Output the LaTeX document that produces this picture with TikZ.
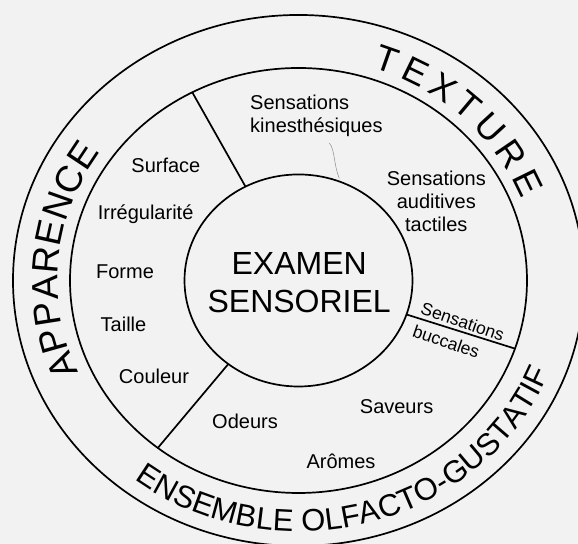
\documentclass[tikz,border=0pt]{standalone}
\usepackage{fontspec}
\setmainfont{Liberation Sans}
\usetikzlibrary{decorations.text}

\newcommand{\apparencefont}{\fontsize{37}{37}\selectfont}
\newcommand{\texturefont}{\fontsize{36}{36}\selectfont}
\newcommand{\olfactofont}{\fontsize{31}{31}\selectfont}

\begin{document}
\begin{tikzpicture}[x=1pt, y=0.93pt,
    every node/.style = {font=\fontsize{20}{23}\selectfont},
    ring/.style       = {draw, line width=1.7pt},
    wedge/.style      = {line width=1.7pt},
    pencil/.style     = {draw=black!45, line width=0.5pt},
    buccal/.style     = {rotate=-19, font=\fontsize{17.5}{20}\selectfont},
    curved/.style     = {decorate,
      decoration={text along path, text align={fit to path}}},
  ]
  \path[use as bounding box, fill=black!5] (-298.5,-283.3) rectangle (279.5,301.6);

  \draw[ring] (0,0) circle (285.5);
  \draw[ring] (0,0) circle (228.5);
  \draw[ring] (0,0) circle (114);

  \coordinate (app-in)   at (117.7:114);
  \coordinate (app-out)  at (117.7:228.5);
  \coordinate (olf-in)   at (-128:114);
  \coordinate (olf-out)  at (-128:228.5);
  \coordinate (bucc-in)  at (-18.7:114);
  \coordinate (bucc-out) at (-18.7:228.5);
  \draw[wedge] (app-in) -- (app-out);
  \draw[wedge] (olf-in) -- (olf-out);
  \draw[wedge] (bucc-in) -- (bucc-out);

  \node[align=center, font=\fontsize{32}{38}\selectfont] (core) at (0.7,-2.7)
    {EXAMEN\\SENSORIEL};

  \node (surface) at (-132.6,124.3) {Surface};
  \node (irreg)   at (-152.9,70.9)  {Irrégularité};
  \node (forme)   at (-173.5,9.1)   {Forme};
  \node (taille)  at (-175,-46.8)   {Taille};
  \node (couleur) at (-144.5,-102.7) {Couleur};

  \node[anchor=west, align=left] (kines) at (-51.8,177.4)
    {Sensations\\kinesthésiques};
  \node[align=center] (auditives) at (137.8,85.5)
    {Sensations\\auditives\\tactiles};
  \node[buccal] (bucc-up)   at (164.2,-44.3) {Sensations};
  \node[buccal] (bucc-down) at (147.8,-65.8) {buccales};

  \node (odeurs)  at (-53.5,-151.8) {Odeurs};
  \node (saveurs) at (98.1,-135.7)  {Saveurs};
  \node (aromes)  at (42.5,-194.1)  {Arômes};

  \draw[pencil] (30.8,147.8) .. controls (36.5,141) and (35,125) .. (40.8,109.7);

  \path[curved, decoration={text={|\apparencefont|APPARENCE}}]
    (204.2:241) arc[start angle=204.2, end angle=145.2, radius=241];
  \path[curved, decoration={text={|\texturefont|TEXTURE}}]
    (72:240) arc[start angle=72, end angle=21.5, radius=240];
  \path[curved, decoration={text={|\olfactofont|ENSEMBLE OLFACTO-GUSTATIF}}]
    (-127.5:270) arc[start angle=-127.5, end angle=-21.5, radius=270];
\end{tikzpicture}
\end{document}
